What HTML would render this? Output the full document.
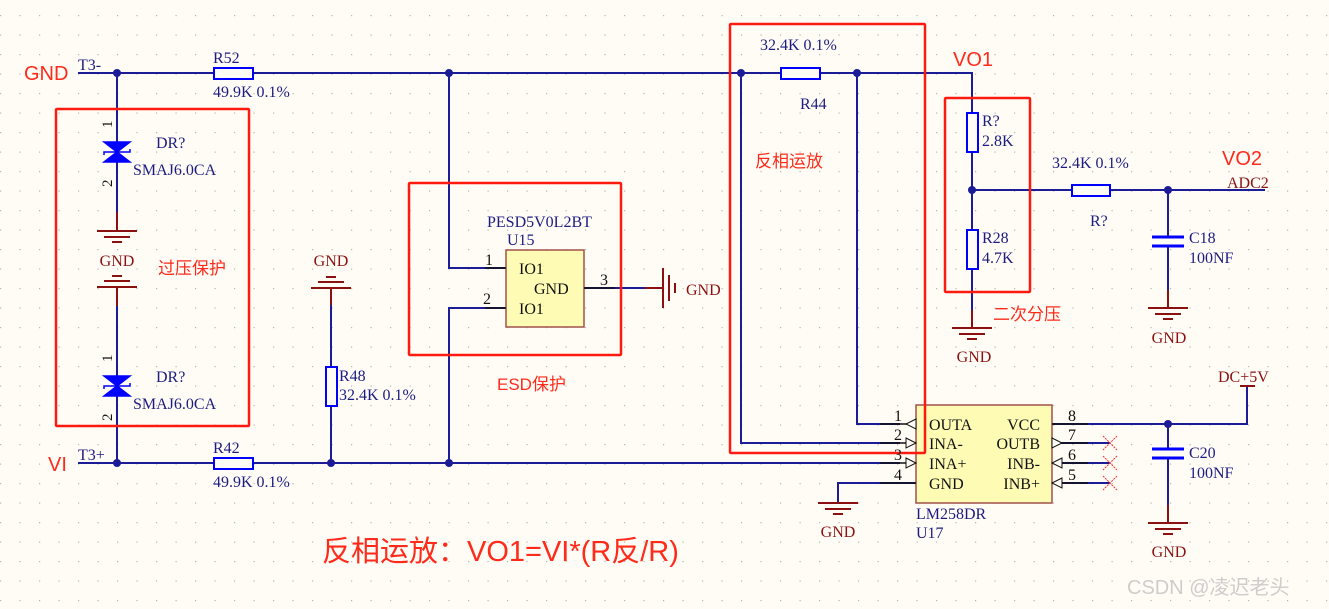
<!DOCTYPE html>
<html><head><meta charset="utf-8"><style>
html,body{margin:0;padding:0;background:#fffcf6;}
svg{display:block;}
.s{font-family:"Liberation Serif","Noto Serif CJK SC",serif;}
.r{font-family:"Liberation Sans","Noto Sans CJK SC",sans-serif;fill:#ff2a1a;}
</style></head><body>
<svg width="1329" height="609" viewBox="0 0 1329 609" xmlns="http://www.w3.org/2000/svg">
<defs>
<pattern id="g" x="0" y="15" width="19.5" height="19.5" patternUnits="userSpaceOnUse">
<rect x="0" y="0" width="1.2" height="1.2" fill="#b8b4ae"/>
</pattern>
</defs>
<rect width="1329" height="609" fill="#fffcf6"/>
<rect width="1329" height="609" fill="url(#g)"/>

<g stroke="#1c1c96" stroke-width="2" fill="none">
<polyline points="78,73 213,73"/>
<polyline points="253,73 780,73"/>
<polyline points="820,73 972,73 972,113"/>
<polyline points="78,463 213,463"/>
<polyline points="253,463 900,463"/>
<line x1="117" y1="73" x2="117" y2="212"/>
<line x1="117" y1="306" x2="117" y2="463"/>
<line x1="331" y1="305" x2="331" y2="463"/>
<polyline points="449,73 449,268 505,268"/>
<polyline points="449,463 449,308 505,308"/>
<line x1="584" y1="288" x2="650" y2="288"/>
<polyline points="741,73 741,443 900,443"/>
<polyline points="857,73 857,424 900,424"/>
<line x1="972" y1="152" x2="972" y2="230"/>
<line x1="972" y1="269" x2="972" y2="318"/>
<line x1="972" y1="190" x2="1072" y2="190"/>
<line x1="1110" y1="190" x2="1265" y2="190"/>
<line x1="1168" y1="190" x2="1168" y2="237"/>
<line x1="1168" y1="246" x2="1168" y2="300"/>
<polyline points="1052,424 1247,424 1247,386"/>
<line x1="1168" y1="424" x2="1168" y2="449"/>
<line x1="1168" y1="458" x2="1168" y2="515"/>
<polyline points="916,483 838,483 838,503"/>
<line x1="1052" y1="443" x2="1110" y2="443"/>
<line x1="1052" y1="463" x2="1110" y2="463"/>
<line x1="1052" y1="483" x2="1110" y2="483"/>
</g>

<g fill="#1c1c96">
<circle cx="117" cy="73" r="4"/><circle cx="449" cy="73" r="4"/><circle cx="741" cy="73" r="4"/><circle cx="857" cy="73" r="4"/>
<circle cx="117" cy="463" r="4"/><circle cx="331" cy="463" r="4"/><circle cx="449" cy="463" r="4"/>
<circle cx="972" cy="190" r="4"/><circle cx="1168" cy="190" r="4"/><circle cx="1168" cy="424" r="4"/>
</g>

<g stroke="#0000ff" stroke-width="2" fill="#fffcf6">
<rect x="214" y="68" width="39" height="11"/>
<rect x="214" y="458" width="39" height="11"/>
<rect x="781" y="68" width="39" height="11"/>
<rect x="1072" y="185" width="38" height="11"/>
<rect x="326" y="367" width="11" height="39"/>
<rect x="967" y="113" width="11" height="39"/>
<rect x="967" y="230" width="11" height="39"/>
</g>
<g stroke="#0000ff" stroke-width="3">
<line x1="1152" y1="237" x2="1184" y2="237"/><line x1="1152" y1="246" x2="1184" y2="246"/>
<line x1="1152" y1="449" x2="1184" y2="449"/><line x1="1152" y1="458" x2="1184" y2="458"/>
</g>

<g fill="#0000ff" stroke="#0000ff" stroke-width="1.5">
<polygon points="104,142 130,142 117,152"/><polygon points="104,162 130,162 117,152"/>
<polyline points="104,155 104,152 130,152 130,149" fill="none"/>
<polygon points="104,376 130,376 117,386"/><polygon points="104,396 130,396 117,386"/>
<polyline points="104,389 104,386 130,386 130,383" fill="none"/>
</g>

<g stroke="#8b1010" stroke-width="2" fill="none">
<line x1="117" y1="212" x2="117" y2="231"/>
<line x1="97" y1="231" x2="137" y2="231"/><line x1="104" y1="237" x2="130" y2="237"/><line x1="112" y1="242" x2="122" y2="242"/>
<line x1="117" y1="287" x2="117" y2="306"/>
<line x1="97" y1="287" x2="137" y2="287"/><line x1="104" y1="281" x2="130" y2="281"/><line x1="112" y1="276" x2="122" y2="276"/>
<line x1="331" y1="288" x2="331" y2="305"/>
<line x1="311" y1="288" x2="351" y2="288"/><line x1="318" y1="282" x2="344" y2="282"/><line x1="326" y1="277" x2="336" y2="277"/>
<line x1="645" y1="288" x2="663" y2="288"/>
<line x1="663" y1="268" x2="663" y2="308"/><line x1="669" y1="275" x2="669" y2="301"/><line x1="675" y1="283" x2="675" y2="293"/>
<line x1="972" y1="310" x2="972" y2="328"/>
<line x1="952" y1="328" x2="992" y2="328"/><line x1="959" y1="334" x2="985" y2="334"/><line x1="967" y1="339" x2="977" y2="339"/>
<line x1="1168" y1="290" x2="1168" y2="308"/>
<line x1="1148" y1="308" x2="1188" y2="308"/><line x1="1155" y1="314" x2="1181" y2="314"/><line x1="1163" y1="319" x2="1173" y2="319"/>
<line x1="1168" y1="505" x2="1168" y2="523"/>
<line x1="1148" y1="523" x2="1188" y2="523"/><line x1="1155" y1="529" x2="1181" y2="529"/><line x1="1163" y1="534" x2="1173" y2="534"/>
<line x1="818" y1="503" x2="858" y2="503"/><line x1="825" y1="509" x2="851" y2="509"/><line x1="833" y1="514" x2="843" y2="514"/>
<line x1="1240" y1="386" x2="1255" y2="386"/>
</g>

<rect x="506" y="250" width="78" height="77" fill="#fdfbb4" stroke="#a0524a" stroke-width="1.5"/>
<rect x="916" y="405" width="136" height="98" fill="#fdfbb4" stroke="#a0524a" stroke-width="1.5"/>
<g stroke="#111" stroke-width="1.5" fill="none">
<line x1="485" y1="268" x2="506" y2="268"/><line x1="485" y1="308" x2="506" y2="308"/><line x1="584" y1="288" x2="615" y2="288"/>
<line x1="880" y1="424" x2="916" y2="424"/><line x1="880" y1="443" x2="916" y2="443"/><line x1="880" y1="463" x2="916" y2="463"/><line x1="880" y1="483" x2="916" y2="483"/>
<line x1="1052" y1="424" x2="1088" y2="424"/><line x1="1052" y1="443" x2="1088" y2="443"/><line x1="1052" y1="463" x2="1088" y2="463"/><line x1="1052" y1="483" x2="1088" y2="483"/>
</g>
<g stroke="#111" stroke-width="1" fill="#fffcf6">
<polygon points="916,419 906,424 916,429"/>
<polygon points="906,438 916,443 906,448"/>
<polygon points="906,458 916,463 906,468"/>
<polygon points="1052,438 1062,443 1052,448"/>
<polygon points="1062,458 1052,463 1062,468"/>
<polygon points="1062,478 1052,483 1062,488"/>
</g>
<g stroke="#ff3030" stroke-width="1" stroke-dasharray="2,1">
<line x1="1103" y1="436" x2="1117" y2="450"/><line x1="1117" y1="436" x2="1103" y2="450"/>
<line x1="1103" y1="456" x2="1117" y2="470"/><line x1="1117" y1="456" x2="1103" y2="470"/>
<line x1="1103" y1="476" x2="1117" y2="490"/><line x1="1117" y1="476" x2="1103" y2="490"/>
</g>

<g stroke="#ff1a10" stroke-width="2.5" fill="none">
<rect x="56" y="109" width="193" height="317" rx="1"/>
<rect x="409" y="183" width="212" height="172" rx="1"/>
<rect x="730" y="24" width="195" height="429" rx="1"/>
<rect x="945" y="98" width="85" height="194" rx="1"/>
</g>

<g class="s" fill="#1c1c80" font-size="16">
<text x="78" y="70">T3-</text>
<text x="78" y="460">T3+</text>
<text x="213" y="63">R52</text>
<text x="213" y="97">49.9K 0.1%</text>
<text x="213" y="453">R42</text>
<text x="213" y="487">49.9K 0.1%</text>
<text x="156" y="148">DR?</text>
<text x="133" y="175">SMAJ6.0CA</text>
<text x="156" y="382">DR?</text>
<text x="133" y="409">SMAJ6.0CA</text>
<text x="339" y="381">R48</text>
<text x="339" y="400">32.4K 0.1%</text>
<text x="487" y="227">PESD5V0L2BT</text>
<text x="507" y="245">U15</text>
<text x="760" y="50">32.4K 0.1%</text>
<text x="800" y="109">R44</text>
<text x="982" y="126">R?</text>
<text x="982" y="146">2.8K</text>
<text x="982" y="243">R28</text>
<text x="982" y="263">4.7K</text>
<text x="1052" y="168">32.4K 0.1%</text>
<text x="1090" y="226">R?</text>
<text x="1189" y="243">C18</text>
<text x="1189" y="263">100NF</text>
<text x="1189" y="458">C20</text>
<text x="1189" y="478">100NF</text>
<text x="916" y="519">LM258DR</text>
<text x="916" y="538">U17</text>
</g>
<g class="s" fill="#111" font-size="16">
<text x="519" y="274">IO1</text>
<text x="534" y="294">GND</text>
<text x="519" y="314">IO1</text>
<text x="485" y="265">1</text><text x="483" y="304">2</text><text x="600" y="285">3</text>
<text x="929" y="430">OUTA</text><text x="929" y="449">INA-</text><text x="929" y="469">INA+</text><text x="929" y="489">GND</text>
<text x="1040" y="430" text-anchor="end">VCC</text><text x="1040" y="449" text-anchor="end">OUTB</text><text x="1040" y="469" text-anchor="end">INB-</text><text x="1040" y="489" text-anchor="end">INB+</text>
<text x="894" y="421">1</text><text x="894" y="440">2</text><text x="894" y="460">3</text><text x="894" y="480">4</text>
<text x="1068" y="421">8</text><text x="1068" y="440">7</text><text x="1068" y="460">6</text><text x="1068" y="480">5</text>
<text transform="translate(112,128) rotate(-90)" font-size="15">1</text>
<text transform="translate(112,187) rotate(-90)" font-size="15">2</text>
<text transform="translate(112,362) rotate(-90)" font-size="15">1</text>
<text transform="translate(112,421) rotate(-90)" font-size="15">2</text>
</g>
<g class="s" fill="#8b1010" font-size="16">
<text x="117" y="266" text-anchor="middle">GND</text>
<text x="331" y="266" text-anchor="middle">GND</text>
<text x="686" y="295">GND</text>
<text x="974" y="362" text-anchor="middle">GND</text>
<text x="1169" y="343" text-anchor="middle">GND</text>
<text x="1169" y="557" text-anchor="middle">GND</text>
<text x="838" y="537" text-anchor="middle">GND</text>
<text x="1218" y="382">DC+5V</text>
<text x="1227" y="188">ADC2</text>
</g>
<g class="r">
<text x="24" y="80" font-size="20">GND</text>
<text x="48" y="471" font-size="20">VI</text>
<text x="953" y="66" font-size="20">VO1</text>
<text x="1222" y="165" font-size="20">VO2</text>
<text x="158" y="274" font-size="17">过压保护</text>
<text x="497" y="390" font-size="17">ESD保护</text>
<text x="755" y="167" font-size="17">反相运放</text>
<text x="993" y="320" font-size="17">二次分压</text>
<text x="322" y="561" font-size="29">反相运放：VO1=VI*(R反/R)</text>
</g>
<text x="1127" y="594" font-family="Liberation Sans,Noto Sans CJK SC,sans-serif" font-size="20" fill="#cfcccc">CSDN @凌迟老头</text>
</svg>
</body></html>
